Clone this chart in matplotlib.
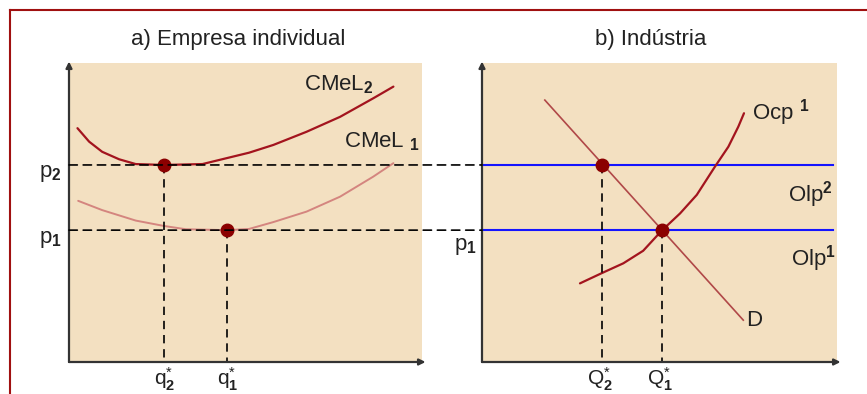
import matplotlib
matplotlib.use('Agg')
import matplotlib.pyplot as plt
from matplotlib.patches import ConnectionPatch
from matplotlib.lines import Line2D

plt.rcParams['font.family'] = ['Liberation Sans', 'DejaVu Sans']
plt.rcParams['mathtext.fontset'] = 'custom'
plt.rcParams['mathtext.rm'] = 'Liberation Sans'
plt.rcParams['mathtext.it'] = 'Liberation Sans'
plt.rcParams['mathtext.bf'] = 'Liberation Sans:bold'

# dados (escala 0..10 em cada painel)
cmel2_x = [0.24, 0.57, 0.94, 1.42, 1.89, 2.69, 3.78, 5.10, 5.79, 6.73, 7.68, 8.62, 9.19]
cmel2_y = [7.82, 7.37, 7.03, 6.78, 6.62, 6.59, 6.62, 7.00, 7.26, 7.70, 8.20, 8.82, 9.21]
cmel1_x = [0.26, 0.94, 1.89, 2.69, 3.31, 4.48, 5.10, 5.79, 6.73, 7.68, 8.62, 9.19]
cmel1_y = [5.39, 5.08, 4.73, 4.55, 4.44, 4.41, 4.45, 4.68, 5.03, 5.53, 6.20, 6.65]

ocp_x = [2.76, 3.37, 3.98, 4.54, 5.06, 5.58, 6.05, 6.56, 6.94, 7.22, 7.38]
ocp_y = [2.63, 2.97, 3.30, 3.72, 4.39, 4.97, 5.59, 6.53, 7.20, 7.87, 8.32]
d_x = [1.77, 7.36]
d_y = [8.76, 1.40]

precos = [6.59, 4.41]       # p2, p1
q_emp = [2.69, 4.48]        # q2*, q1*
q_ind = [3.38, 5.07]        # Q2*, Q1*
olp_fim = 9.89

tan = '#F3E0C1'
vermelho = '#A3141E'
ponto = '#8B0000'
eixo = '#333333'
txt = '#222222'
fs = 16
fs_q = 15

W, H = 867, 394
def caixa(l, t, r, b):
    return [l / W, 1 - b / H, (r - l) / W, (b - t) / H]

fig = plt.figure(figsize=(8.67, 3.94), dpi=100)
ax1 = fig.add_axes(caixa(69, 63, 422, 362))
ax2 = fig.add_axes(caixa(482, 63, 837, 362))

for ax in (ax1, ax2):
    ax.set_xlim(0, 10)
    ax.set_ylim(0, 10)
    ax.set_facecolor(tan)
    for s in ax.spines.values():
        s.set_visible(False)
    ax.set_xticks([])
    ax.set_yticks([])
    ax.annotate('', xy=(0, 10.05), xytext=(0, 0), annotation_clip=False,
                arrowprops=dict(arrowstyle='-|>', color=eixo, lw=1.6,
                                shrinkA=0, shrinkB=0, mutation_scale=9))
    ax.annotate('', xy=(10.1, 0), xytext=(0, 0), annotation_clip=False,
                arrowprops=dict(arrowstyle='-|>', color=eixo, lw=1.6,
                                shrinkA=0, shrinkB=0, mutation_scale=9))

dash = dict(color='black', lw=1.2, linestyle=(0, (5, 3.5)))

# a) empresa individual
ax1.plot(cmel2_x, cmel2_y, color=vermelho, lw=1.6, solid_capstyle='round',
         solid_joinstyle='round')
ax1.plot(cmel1_x, cmel1_y, color='#D4857F', lw=1.4, solid_capstyle='round',
         solid_joinstyle='round')
for p in precos:
    con = ConnectionPatch(xyA=(0, p), coordsA=ax1.transData,
                          xyB=(0, p), coordsB=ax2.transData, **dash)
    fig.add_artist(con)
for q, p in zip(q_emp, precos):
    ax1.plot([q, q], [p, 0], **dash)
    ax1.plot(q, p, 'o', color=ponto, ms=9, zorder=5)

ax1.text(6.66, 9.26, r'CMeL$_{\mathbf{2}}$', fontsize=fs, color=txt, va='center')
ax1.text(7.80, 7.36, r'CMeL $_{\mathbf{1}}$', fontsize=fs, color=txt, va='center')
ax1.text(-0.2, precos[0] - 0.3, r'p$_{\mathbf{2}}$', fontsize=fs, color=txt,
         ha='right', va='center')
ax1.text(-0.2, precos[1] - 0.3, r'p$_{\mathbf{1}}$', fontsize=fs, color=txt,
         ha='right', va='center')
ax1.text(q_emp[0] - 0.28, -0.12, r'q$^{*}_{\mathbf{2}}$', fontsize=fs_q, color=txt,
         ha='left', va='top')
ax1.text(q_emp[1] - 0.28, -0.12, r'q$^{*}_{\mathbf{1}}$', fontsize=fs_q, color=txt,
         ha='left', va='top')

# b) industria
for p in precos:
    ax2.plot([0, olp_fim], [p, p], color='#1414FF', lw=1.5)
ax2.plot(d_x, d_y, color='#B04848', lw=1.2)
ax2.plot(ocp_x, ocp_y, color=vermelho, lw=1.6, solid_capstyle='round',
         solid_joinstyle='round')
for q, p in zip(q_ind, precos):
    ax2.plot([q, q], [p, 0], **dash)
    ax2.plot(q, p, 'o', color=ponto, ms=9, zorder=5)

ax2.text(7.60, 8.33, r'Ocp $^{\mathbf{1}}$', fontsize=fs, color=txt, va='center')
ax2.text(8.62, 5.60, r'Olp$^{\mathbf{2}}$', fontsize=fs, color=txt, va='center')
ax2.text(8.70, 3.45, r'Olp$^{\mathbf{1}}$', fontsize=fs, color=txt, va='center')
ax2.text(7.44, 1.40, 'D', fontsize=fs, color=txt, va='center')
ax2.text(-0.15, precos[1] - 0.55, r'p$_{\mathbf{1}}$', fontsize=fs, color=txt,
         ha='right', va='center')
ax2.text(q_ind[0] - 0.42, -0.12, r'Q$^{*}_{\mathbf{2}}$', fontsize=fs_q, color=txt,
         ha='left', va='top')
ax2.text(q_ind[1] - 0.42, -0.12, r'Q$^{*}_{\mathbf{1}}$', fontsize=fs_q, color=txt,
         ha='left', va='top')

fig.text(238 / W, 1 - 39 / H, 'a) Empresa individual', fontsize=16, color=txt,
         ha='center', va='center')
fig.text(651 / W, 1 - 39 / H, 'b) Indústria', fontsize=16, color=txt,
         ha='center', va='center')

# moldura
fig.add_artist(Line2D([10 / W, 1], [1 - 10 / H, 1 - 10 / H], color='#A01010', lw=1.5))
fig.add_artist(Line2D([10 / W, 10 / W], [0, 1 - 10 / H], color='#A01010', lw=1.5))

fig.savefig('out.png', dpi=100)
